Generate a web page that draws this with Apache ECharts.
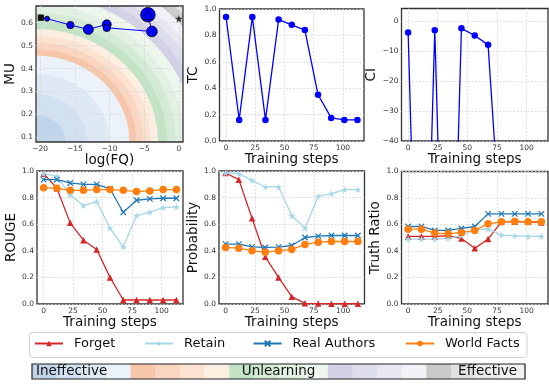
<!DOCTYPE html>
<html>
<head>
<meta charset="utf-8">
<script src="https://cdn.jsdelivr.net/npm/echarts@6/dist/echarts.min.js"></script>
<style>
html, body { margin: 0; padding: 0; background: #fff; }
#c { width: 549px; height: 387px; }
</style>
</head>
<body>
<div id="c"></div>
<script>
// ---------- data ----------
const steps = [0, 11.25, 22.5, 33.75, 45, 56.25, 67.5, 78.75, 90, 101.25, 112.5];
const stepTicks = [0, 25, 50, 75, 100];
const fqTicks = [-20, -15, -10, -5, 0];
const muTicks = [0.1, 0.2, 0.3, 0.4, 0.5, 0.6];
const ciTicks = [-40, -30, -20, -10, 0];

// trajectory of the unlearning run in the (log FQ, MU) plane
const trajFQ = [-19.9, -19.0, -15.64, -13.05, -10.4, -10.4, -3.88, -4.46];
const trajMU = [0.622, 0.6175, 0.590, 0.571, 0.593, 0.578, 0.562, 0.635];
const trajSize = [5.5, 5, 7.3, 10, 9, 7.5, 10.7, 14.5];
const targetFQ = 0;
const targetMU = 0.6175;

const tcValues = [0.94, 0.16, 0.94, 0.16, 0.92, 0.88, 0.84, 0.35, 0.175, 0.16, 0.16];
const ciValues = [-3.9, -160, -3.1, -160, -2.5, -4.9, -8.0, -75, -150, -160, -160];

const seriesNames = ['Forget', 'Retain', 'Real Authors', 'World Facts'];

const rougeForget = [0.98, 0.87, 0.61, 0.48, 0.41, 0.20, 0.03, 0.03, 0.03, 0.03, 0.03];
const rougeRetain = [0.98, 0.96, 0.82, 0.74, 0.77, 0.57, 0.43, 0.665, 0.69, 0.725, 0.73];
const rougeAuthors = [0.935, 0.935, 0.91, 0.90, 0.90, 0.865, 0.69, 0.78, 0.79, 0.795, 0.795];
const rougeFacts = [0.875, 0.87, 0.855, 0.855, 0.86, 0.86, 0.855, 0.845, 0.85, 0.86, 0.86];

const probForget = [0.985, 0.935, 0.645, 0.355, 0.20, 0.055, 0.005, 0.003, 0.002, 0.002, 0.002];
const probRetain = [0.985, 0.98, 0.93, 0.88, 0.88, 0.665, 0.57, 0.81, 0.83, 0.86, 0.86];
const probAuthors = [0.45, 0.45, 0.43, 0.425, 0.428, 0.44, 0.50, 0.51, 0.515, 0.515, 0.515];
const probFacts = [0.425, 0.42, 0.40, 0.39, 0.40, 0.41, 0.448, 0.465, 0.47, 0.47, 0.47];

const trForget = [0.51, 0.51, 0.51, 0.515, 0.495, 0.42, 0.49, 0.62, 0.62, 0.62, 0.615];
const trRetain = [0.49, 0.49, 0.49, 0.495, 0.515, 0.56, 0.565, 0.52, 0.515, 0.51, 0.51];
const trAuthors = [0.585, 0.585, 0.555, 0.555, 0.57, 0.585, 0.68, 0.68, 0.68, 0.68, 0.68];
const trFacts = [0.565, 0.565, 0.535, 0.53, 0.54, 0.555, 0.605, 0.62, 0.625, 0.62, 0.62];

// effectiveness bands: Blues, Oranges, Greens, Purples, Greys (dark -> light each)
const bandColors = [
  '#c0d5ea', '#d1e1f1', '#dfe9f5', '#ebf2f9',
  '#f6c6ab', '#fad5bf', '#fce2d0', '#fdeee2',
  '#c3e3c7', '#d3ebd5', '#e2f1e3', '#eef7ee',
  '#d2d1e6', '#dedded', '#e8e7f2', '#f2f1f7',
  '#cacaca', '#e2e2e2', '#ebebeb', '#f3f3f3'
];
// outer radius of each band, measured from the worst (bottom-left) corner in axis-normalised units
const bandOuterRadii = [
  0.20, 0.35, 0.50, 0.635,
  0.68, 0.73, 0.78, 0.83,
  0.89, 0.95, 1.01, 1.08,
  1.14, 1.20, 1.25, 1.31,
  1.37, 1.39, 1.405, 2.0
];
const scaleLabels = ['Ineffective', 'Unlearning', 'Effective'];

// ---------- helpers ----------
const FONT = 'DejaVu Sans';
const minus = v => String(v).replace('-', '\u2212');
const oneDec = v => v.toFixed(1);
const splitStyle = { show: true, lineStyle: { color: '#d6d6d6', width: 0.8, type: [2, 1.5] } };
const tickText = fmt => ({ fontSize: 7.5, color: '#333', fontFamily: FONT, margin: 3, formatter: fmt });
const nameText = { fontSize: 13.5, fontFamily: FONT, color: '#111' };

const FQ_MIN = -20.6, FQ_MAX = 0.6, MU_MIN = 0.08, MU_MAX = 0.673;
const STEP_MIN = -5.6, STEP_MAX = 118.1;

const grids = [
  { left: 36, top: 6, width: 147, height: 136 },
  { left: 219.5, top: 9, width: 144.5, height: 132 },
  { left: 401.5, top: 8.5, width: 146.5, height: 132.5 },
  { left: 37, top: 171, width: 146, height: 133 },
  { left: 219, top: 171, width: 145.5, height: 133 },
  { left: 401.5, top: 171.5, width: 146.5, height: 132.5 }
].map(g => Object.assign(g, { show: true, borderColor: '#333', borderWidth: 1.3, backgroundColor: 'transparent' }));

function stepAxis(gi, gap) {
  return {
    type: 'value', gridIndex: gi, min: STEP_MIN, max: STEP_MAX,
    name: 'Training steps', nameLocation: 'middle', nameGap: gap, nameTextStyle: nameText,
    axisLine: { show: false }, axisTick: { show: false, customValues: stepTicks },
    axisLabel: Object.assign(tickText(minus), { customValues: stepTicks }),
    splitLine: splitStyle
  };
}
function unitAxis(gi, name, gap) {
  return {
    type: 'value', gridIndex: gi, min: 0, max: 1, interval: 0.2,
    name: name, nameLocation: 'middle', nameGap: gap, nameTextStyle: nameText,
    axisLine: { show: false }, axisTick: { show: false },
    axisLabel: tickText(oneDec), splitLine: splitStyle
  };
}

const xAxes = [
  {
    type: 'value', gridIndex: 0, min: FQ_MIN, max: FQ_MAX,
    name: 'log(FQ)', nameLocation: 'middle', nameGap: 7, nameTextStyle: nameText,
    axisLine: { show: false }, axisTick: { show: false, customValues: fqTicks },
    axisLabel: Object.assign(tickText(minus), { customValues: fqTicks }),
    splitLine: splitStyle
  },
  stepAxis(1, 7), stepAxis(2, 7), stepAxis(3, 9), stepAxis(4, 9), stepAxis(5, 9)
];
const yAxes = [
  {
    type: 'value', gridIndex: 0, min: MU_MIN, max: MU_MAX,
    name: 'MU', nameLocation: 'middle', nameGap: 14, nameTextStyle: nameText,
    axisLine: { show: false }, axisTick: { show: false, customValues: muTicks },
    axisLabel: Object.assign(tickText(oneDec), { customValues: muTicks }),
    splitLine: splitStyle
  },
  unitAxis(1, 'TC', 15.5),
  {
    type: 'value', gridIndex: 2, min: -40, max: 4.1,
    name: 'CI', nameLocation: 'middle', nameGap: 18.5, nameTextStyle: nameText,
    axisLine: { show: false }, axisTick: { show: false, customValues: ciTicks },
    axisLabel: Object.assign(tickText(minus), { customValues: ciTicks }),
    splitLine: splitStyle
  },
  unitAxis(3, 'ROUGE', 16),
  unitAxis(4, 'Probability', 14),
  unitAxis(5, 'Truth Ratio', 14.5)
];

// clip a polygon (normalised coords) to the unit square
function clipUnit(poly) {
  const edges = [
    [p => p[0] >= 0, (a, b) => { const t = (0 - a[0]) / (b[0] - a[0]); return [0, a[1] + t * (b[1] - a[1])]; }],
    [p => p[0] <= 1, (a, b) => { const t = (1 - a[0]) / (b[0] - a[0]); return [1, a[1] + t * (b[1] - a[1])]; }],
    [p => p[1] >= 0, (a, b) => { const t = (0 - a[1]) / (b[1] - a[1]); return [a[0] + t * (b[0] - a[0]), 0]; }],
    [p => p[1] <= 1, (a, b) => { const t = (1 - a[1]) / (b[1] - a[1]); return [a[0] + t * (b[0] - a[0]), 1]; }]
  ];
  let out = poly;
  for (const [inside, cut] of edges) {
    const inp = out; out = [];
    for (let i = 0; i < inp.length; i++) {
      const a = inp[i], b = inp[(i + 1) % inp.length];
      const ia = inside(a), ib = inside(b);
      if (ia) out.push(a);
      if (ia !== ib) out.push(cut(a, b));
    }
  }
  return out;
}
// quarter disc around the bottom-left corner of the unit square
function quarterDisc(r) {
  const pts = [[0, 0]];
  const n = 90;
  for (let k = 0; k <= n; k++) {
    const th = (k / n) * Math.PI / 2;
    pts.push([r * Math.cos(th), r * Math.sin(th)]);
  }
  return pts;
}

const starPath = 'path://M50,2L61.8,38.2L99.9,38.2L69.1,60.6L80.9,96.8L50,74.4L19.1,96.8L30.9,60.6L0.1,38.2L38.2,38.2Z';
const crossPath = 'path://M0,0L10,10M10,0L0,10';

const metricStyles = [
  { color: '#d62728', symbol: 'triangle', size: 6.5 },
  { color: '#a6d7e7', symbol: starPath, size: 7 },
  { color: '#1f77b4', symbol: crossPath, size: 5.5 },
  { color: '#ff7f0e', symbol: 'circle', size: 7.5 }
];

function metricSeries(gi, arrays) {
  return arrays.map((vals, k) => {
    const st = metricStyles[k];
    return {
      type: 'line', name: seriesNames[k], xAxisIndex: gi, yAxisIndex: gi,
      data: steps.map((s, i) => [s, vals[i]]),
      symbol: st.symbol, symbolSize: st.size, showAllSymbol: true,
      lineStyle: { color: st.color, width: 1.3 },
      itemStyle: { color: st.color, borderColor: st.color, borderWidth: k === 2 ? 1.2 : 0 },
      emphasis: { disabled: true }, animation: false
    };
  });
}

// widest band first so the narrower ones paint over it
const bandOrder = bandOuterRadii.map((r, i) => i).reverse();

const series = [
  {
    type: 'custom', xAxisIndex: 0, yAxisIndex: 0, z: -1, silent: true, clip: true,
    data: bandOrder.map(i => [bandOuterRadii[i], i]),
    renderItem(params, api) {
      const r = api.value(0);
      const ci = api.value(1);
      const pts = clipUnit(quarterDisc(r)).map(([u, v]) =>
        api.coord([FQ_MIN + u * (FQ_MAX - FQ_MIN), MU_MIN + v * (MU_MAX - MU_MIN)]));
      return { type: 'polygon', shape: { points: pts }, style: { fill: bandColors[ci] } };
    },
    animation: false
  },
  {
    type: 'line', xAxisIndex: 0, yAxisIndex: 0,
    data: trajFQ.map((x, i) => ({
      value: [x, trajMU[i]], symbolSize: trajSize[i],
      symbol: i === 0 ? 'rect' : 'circle',
      itemStyle: i === 0 ? { color: '#111', borderColor: '#111' } : undefined
    })),
    showAllSymbol: true,
    lineStyle: { color: '#0000ff', width: 1 },
    itemStyle: { color: '#0000ff', borderColor: '#000', borderWidth: 0.8 },
    emphasis: { disabled: true }, animation: false
  },
  {
    type: 'scatter', xAxisIndex: 0, yAxisIndex: 0,
    data: [[trajFQ[trajFQ.length - 1], trajMU[trajMU.length - 1]]],
    symbol: 'triangle', symbolSize: 10,
    itemStyle: { color: '#0000ff', borderColor: '#000', borderWidth: 0.8 }, z: 3, animation: false
  },
  {
    type: 'scatter', xAxisIndex: 0, yAxisIndex: 0,
    data: [[targetFQ, targetMU]], symbol: starPath, symbolSize: 7.5,
    itemStyle: { color: '#000' }, z: 3, animation: false
  },
  {
    type: 'line', xAxisIndex: 1, yAxisIndex: 1,
    data: steps.map((s, i) => [s, tcValues[i]]),
    symbol: 'circle', symbolSize: 6.5, showAllSymbol: true,
    lineStyle: { color: '#0000ff', width: 1.3 }, itemStyle: { color: '#0000ff' },
    emphasis: { disabled: true }, animation: false
  },
  {
    type: 'line', xAxisIndex: 2, yAxisIndex: 2, clip: true,
    data: steps.map((s, i) => [s, ciValues[i]]),
    symbol: 'circle', symbolSize: 6.5, showAllSymbol: true,
    lineStyle: { color: '#0000ff', width: 1.3 }, itemStyle: { color: '#0000ff' },
    emphasis: { disabled: true }, animation: false
  },
  ...metricSeries(3, [rougeForget, rougeRetain, rougeAuthors, rougeFacts]),
  ...metricSeries(4, [probForget, probRetain, probAuthors, probFacts]),
  ...metricSeries(5, [trForget, trRetain, trAuthors, trFacts])
];

const legendLeft = [34, 144, 252.6, 405];
const legends = seriesNames.map((n, i) => ({
  data: [n], left: legendLeft[i], top: 337, padding: 0,
  itemWidth: 28, itemHeight: 7, selectedMode: false,
  textStyle: { fontSize: 13, fontFamily: FONT, color: '#111', padding: [0, 0, 0, 6] }
}));

// colour scale strip under the legend
const barX = 32, barW = 493, barY = 364, barH = 15;
const segW = barW / bandColors.length;
const graphics = [
  { type: 'rect', z: 0, shape: { x: 29.5, y: 332.5, width: 497.5, height: 25, r: 3 },
    style: { fill: '#fff', stroke: '#d0d0d0', lineWidth: 1 } },
  ...bandColors.map((c, i) => ({
    type: 'rect', z: 1, shape: { x: barX + i * segW, y: barY, width: segW + 0.6, height: barH },
    style: { fill: c }
  })),
  { type: 'rect', z: 2, shape: { x: barX, y: barY, width: barW, height: barH },
    style: { fill: 'none', stroke: '#222', lineWidth: 1.2 } },
  { type: 'text', z: 3, x: barX + 4, y: barY + barH / 2,
    style: { text: scaleLabels[0], font: '13.5px "DejaVu Sans"', fill: '#111', verticalAlign: 'middle', align: 'left' } },
  { type: 'text', z: 3, x: barX + barW / 2, y: barY + barH / 2,
    style: { text: scaleLabels[1], font: '13.5px "DejaVu Sans"', fill: '#111', verticalAlign: 'middle', align: 'center' } },
  { type: 'text', z: 3, x: barX + barW - 8, y: barY + barH / 2,
    style: { text: scaleLabels[2], font: '13.5px "DejaVu Sans"', fill: '#111', verticalAlign: 'middle', align: 'right' } }
];

const chart = echarts.init(document.getElementById('c'), null, { renderer: 'canvas' });
chart.setOption({
  animation: false,
  textStyle: { fontFamily: FONT },
  grid: grids,
  xAxis: xAxes,
  yAxis: yAxes,
  legend: legends,
  series: series,
  graphic: graphics
});
</script>
</body>
</html>
